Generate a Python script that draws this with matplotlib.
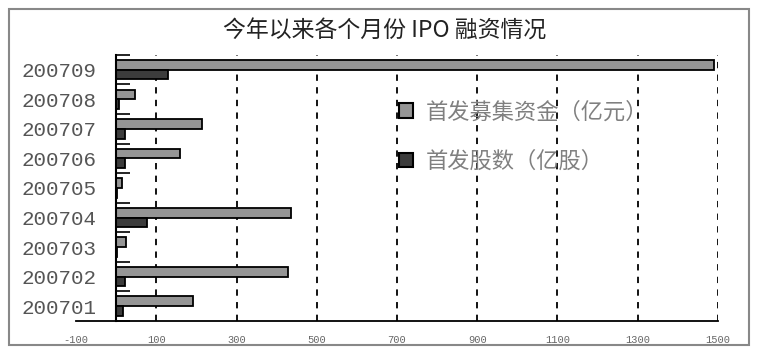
import matplotlib
matplotlib.use("Agg")
import matplotlib.pyplot as plt
from matplotlib.patches import Patch, Rectangle
import numpy as np

plt.rcParams['font.family'] = ['Noto Sans CJK SC', 'DejaVu Sans']

months = ["200701", "200702", "200703", "200704", "200705",
          "200706", "200707", "200708", "200709"]
# 首发募集资金(亿元)
amount = [192, 429, 25, 435, 15, 159, 215, 47, 1490]
# 首发股数(亿股)
shares = [16, 21, 2, 76, 2, 23, 23, 7, 128]

x_ticks = [-100, 100, 300, 500, 700, 900, 1100, 1300, 1500]
title = "今年以来各个月份 IPO 融资情况"
labels = ["首发募集资金（亿元）", "首发股数（亿股）"]

gray = "#959595"
dark = "#3c3c3c"

fig = plt.figure(figsize=(7.58, 3.52), dpi=100)
ax = fig.add_axes([0.1003, 0.088, 0.8469, 0.756])

# spine position first: set_position resets the ticks
ax.spines["left"].set_position(("data", 0))
ax.spines["left"].set_linewidth(1.5)
ax.spines["bottom"].set_linewidth(1.3)
ax.spines["top"].set_visible(False)
ax.spines["right"].set_visible(False)

y = np.arange(len(months))
h = 0.33
ax.barh(y + h / 2, amount, height=h, color=gray, edgecolor="black", linewidth=1.3)
ax.barh(y - h / 2, shares, height=h, color=dark, edgecolor="black", linewidth=1.3)

ax.set_xlim(-100, 1500)
ax.set_ylim(-0.5, 8.5)

# dashed grid lines
for t in x_ticks[1:]:
    ax.axvline(t, color="black", linestyle=(0, (3.5, 3.5)), linewidth=1.3, zorder=0)

ax.set_xticks(x_ticks)
ax.set_xticklabels([str(t) for t in x_ticks], fontsize=7.5, color="#666666",
                   family="Liberation Mono")
ax.tick_params(axis="x", length=0, pad=10)

ax.set_yticks(y)
ax.set_yticklabels(months, fontsize=15, color="#555555", family="Liberation Mono")
ax.set_yticks(np.arange(-0.5, 8.6, 1), minor=True)
ax.tick_params(axis="y", which="major", length=0, pad=14)
ax.tick_params(axis="y", which="minor", direction="in", length=10, width=1.2,
               color="black")

handles = [Patch(facecolor=gray, edgecolor="black", linewidth=1.5),
           Patch(facecolor=dark, edgecolor="black", linewidth=1.5)]
fig.legend(handles, labels, loc="upper left", bbox_to_anchor=(0.527, 0.715),
           frameon=False, fontsize=16, labelcolor="#808080",
           handlelength=0.6, handleheight=0.6, handletextpad=0.6,
           labelspacing=1.2, borderpad=0, borderaxespad=0)

fig.text(0.508, 1 - 31 / 352, title, ha="center", va="center",
         fontsize=16.5, color="#222222")

fig.patches.append(Rectangle((0.012, 0.02), 0.976, 0.955, transform=fig.transFigure,
                             fill=False, edgecolor="#888888", linewidth=1.5))

fig.savefig("out.png", dpi=100)
